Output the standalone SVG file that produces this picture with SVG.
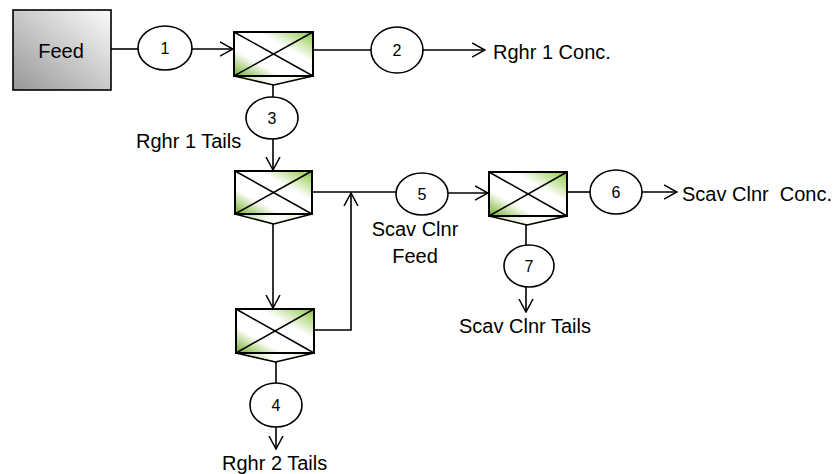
<svg xmlns="http://www.w3.org/2000/svg" width="833" height="474" viewBox="0 0 833 474">
<defs>
<linearGradient id="gFeed" x1="0" y1="1" x2="1" y2="0">
<stop offset="0" stop-color="#979797"/>
<stop offset="1" stop-color="#fbfbfb"/>
</linearGradient>
<linearGradient id="gCell" x1="0" y1="1" x2="1" y2="0">
<stop offset="0" stop-color="#6fae22"/>
<stop offset="0.3" stop-color="#ffffff"/>
<stop offset="0.65" stop-color="#ffffff"/>
<stop offset="1" stop-color="#8cc63f"/>
</linearGradient>
<linearGradient id="gV" x1="0" y1="0" x2="1" y2="0">
<stop offset="0" stop-color="#b7da8c"/>
<stop offset="0.5" stop-color="#ffffff"/>
<stop offset="1" stop-color="#dcefc6"/>
</linearGradient>
<marker id="arr" viewBox="0 0 14 16" refX="13" refY="8" markerWidth="14" markerHeight="16" orient="auto" markerUnits="userSpaceOnUse">
<path d="M0,1 L13,8 L0,15" fill="none" stroke="#000" stroke-width="1.5"/>
</marker>
</defs>
<style>
.ln{fill:none;stroke:#000;stroke-width:1.6}
.ar{fill:none;stroke:#000;stroke-width:1.6;marker-end:url(#arr)}
.cell{fill:url(#gCell);stroke:#000;stroke-width:2}
.v{fill:url(#gV);stroke:#000;stroke-width:1.6;stroke-linejoin:round}
.x{stroke:#000;stroke-width:1.5}
.el{fill:#fff;stroke:#000;stroke-width:1.6}
.num{font-family:"Liberation Sans",Arial,sans-serif;font-size:16px;fill:#000;text-anchor:middle}
.lbl{font-family:"Liberation Sans",Arial,sans-serif;font-size:20px;fill:#000}
</style>
<rect width="833" height="474" fill="#fff"/>

<g id="connectors">
<line class="ln" x1="111" y1="49" x2="138" y2="49"/>
<line class="ar" x1="192" y1="49" x2="233" y2="49"/>
<line class="ln" x1="313" y1="50" x2="371" y2="50"/>
<line class="ar" x1="423" y1="50" x2="485" y2="50"/>
<line class="ln" x1="273" y1="85" x2="273" y2="97"/>
<line class="ar" x1="273" y1="139" x2="273" y2="170"/>
<line class="ln" x1="312" y1="192" x2="396" y2="192"/>
<line class="ar" x1="448" y1="193" x2="488" y2="193"/>
<line class="ar" x1="273" y1="224" x2="273" y2="308"/>
<polyline class="ar" points="314,330 351,330 351,193"/>
<line class="ln" x1="276" y1="362" x2="276" y2="383"/>
<line class="ar" x1="276" y1="427" x2="276" y2="449"/>
<line class="ln" x1="567" y1="192" x2="590" y2="192"/>
<line class="ar" x1="642" y1="192" x2="677" y2="192"/>
<line class="ln" x1="526" y1="225" x2="526" y2="245"/>
<line class="ar" x1="526" y1="287" x2="526" y2="312"/>
</g>

<g id="feed">
<rect x="13" y="10" width="98" height="80" fill="url(#gFeed)" stroke="#000" stroke-width="1.6"/>
<text class="lbl" x="61" y="58" text-anchor="middle">Feed</text>
</g>

<g id="cell1">
<polygon class="v" points="234,76 273.5,85 313,76"/>
<rect class="cell" x="234" y="32" width="79" height="44"/>
<line class="x" x1="234" y1="32" x2="313" y2="76"/>
<line class="x" x1="234" y1="76" x2="313" y2="32"/>
</g>

<g id="cell2">
<polygon class="v" points="235,214 273.5,224 312,214"/>
<rect class="cell" x="235" y="171" width="77" height="43"/>
<line class="x" x1="235" y1="171" x2="312" y2="214"/>
<line class="x" x1="235" y1="214" x2="312" y2="171"/>
</g>

<g id="cell3">
<polygon class="v" points="236,353 275.5,362 314,353"/>
<rect class="cell" x="236" y="309" width="78" height="44"/>
<line class="x" x1="236" y1="309" x2="314" y2="353"/>
<line class="x" x1="236" y1="353" x2="314" y2="309"/>
</g>

<g id="cell4">
<polygon class="v" points="489,216 527,225 567,216"/>
<rect class="cell" x="489" y="172" width="78" height="44"/>
<line class="x" x1="489" y1="172" x2="567" y2="216"/>
<line class="x" x1="489" y1="216" x2="567" y2="172"/>
</g>

<g id="stream1"><ellipse class="el" cx="165" cy="48" rx="27" ry="22"/><text class="num" x="165" y="54">1</text></g>
<g id="stream2"><ellipse class="el" cx="397" cy="50" rx="26" ry="23"/><text class="num" x="397" y="56">2</text></g>
<g id="stream3"><ellipse class="el" cx="272" cy="118" rx="26" ry="21"/><text class="num" x="272" y="124">3</text></g>
<g id="stream4"><ellipse class="el" cx="276" cy="405" rx="26" ry="22"/><text class="num" x="276" y="411">4</text></g>
<g id="stream5"><ellipse class="el" cx="422" cy="194" rx="26" ry="21"/><text class="num" x="422" y="200">5</text></g>
<g id="stream6"><ellipse class="el" cx="616" cy="192" rx="26" ry="22"/><text class="num" x="616" y="198">6</text></g>
<g id="stream7"><ellipse class="el" cx="529" cy="266" rx="25" ry="21"/><text class="num" x="529" y="272">7</text></g>

<g id="labels">
<text class="lbl" x="493" y="59">Rghr 1 Conc.</text>
<text class="lbl" x="136" y="148">Rghr 1 Tails</text>
<text class="lbl" x="415" y="236" text-anchor="middle">Scav Clnr</text>
<text class="lbl" x="415" y="263" text-anchor="middle">Feed</text>
<text class="lbl" x="682" y="201" style="white-space:pre">Scav Clnr  Conc.</text>
<text class="lbl" x="459" y="333">Scav Clnr Tails</text>
<text class="lbl" x="222" y="470">Rghr 2 Tails</text>
</g>
</svg>
